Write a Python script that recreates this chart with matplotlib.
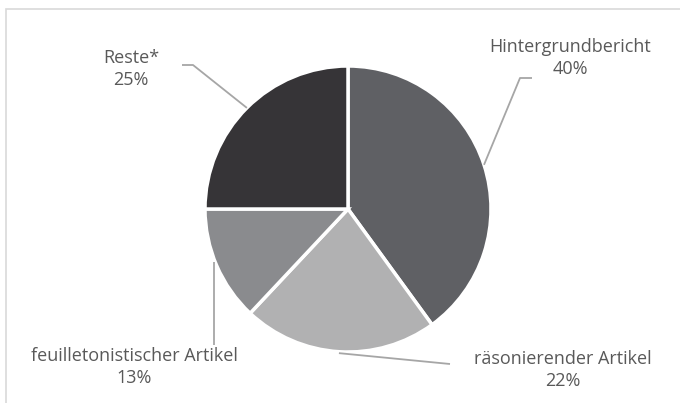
import matplotlib
matplotlib.use("Agg")
import matplotlib.pyplot as plt
import numpy as np
from matplotlib.patches import Rectangle

categories = ["Hintergrundbericht", "räsonierender Artikel", "feuilletonistischer Artikel", "Reste*"]
values = [40, 22, 13, 25]
colors = ["#5f6064", "#b1b1b2", "#8a8b8e", "#363437"]

W, H = 680, 403
fig = plt.figure(figsize=(W / 100, H / 100), dpi=100)
ax = fig.add_axes([0, 0, 1, 1])
ax.set_xlim(0, W)
ax.set_ylim(0, H)
ax.set_aspect("equal")
ax.axis("off")

# chart border
fig.patches.append(Rectangle((6 / W, -0.1), 1.2, 1.1 - 9 / H, transform=fig.transFigure,
                             fill=False, edgecolor="#d9d9d9", linewidth=1.2))

cx, cy, r = 348, H - 209, 143
wedges, _ = ax.pie(values, colors=colors, startangle=90, counterclock=False,
                   center=(cx, cy), radius=r, frame=True,
                   wedgeprops=dict(edgecolor="white", linewidth=2.5))
ax.set_xlim(0, W)
ax.set_ylim(0, H)
ax.axis("off")

def px(x, y):
    return x, H - y

line_kw = dict(color="#a6a6a6", linewidth=1.3, solid_capstyle="butt")

mids = [np.deg2rad((w.theta1 + w.theta2) / 2) for w in wedges]
def anchor(i, rr=1.0):
    return cx + r * rr * np.cos(mids[i]), cy + r * rr * np.sin(mids[i])

# Hintergrundbericht
a = anchor(0, 1.0)
p1 = px(520, 78); p2 = px(532, 78)
ax.plot([a[0], p1[0], p2[0]], [a[1], p1[1], p2[1]], **line_kw)
# räsonierender
a = anchor(1, 1.01)
p1 = px(450, 364)
ax.plot([a[0], p1[0]], [a[1], p1[1]], **line_kw)
# feuilletonistischer
p0 = px(214, 262); p1 = px(214, 345)
ax.plot([p0[0], p1[0]], [p0[1], p1[1]], **line_kw)
# Reste
a = anchor(3, 1.0)
p1 = px(193, 65); p2 = px(182, 65)
ax.plot([a[0], p1[0], p2[0]], [a[1], p1[1], p2[1]], **line_kw)

label_pos = [(570, 58), (563, 370), (134, 367), (131, 69)]
pct = [f"{v}%" for v in values]
for name, p, (x, y) in zip(categories, pct, label_pos):
    X, Y = px(x, y)
    ax.text(X, Y, f"{name}\n{p}", ha="center", va="center", fontsize=13,
            color="#595959", family="Open Sans", linespacing=1.3)

fig.savefig("out.png", dpi=100)
